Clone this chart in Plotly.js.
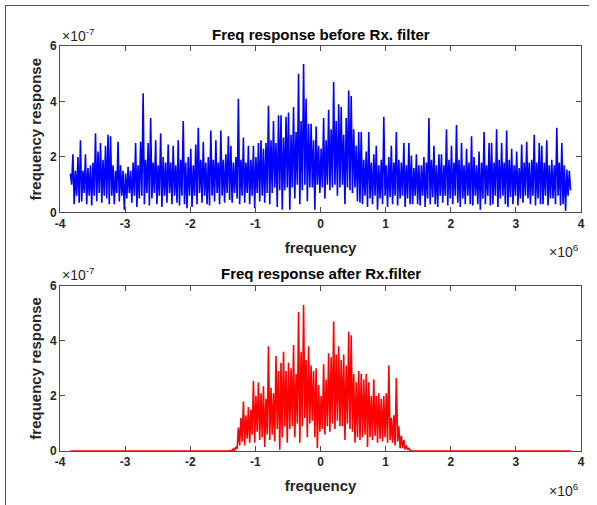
<!DOCTYPE html>
<html><head><meta charset="utf-8">
<script src="https://cdn.plot.ly/plotly-3.0.1.min.js"></script>
<style>
body{margin:0;background:#fff}
#chart{position:absolute;left:0;top:0;width:597px;height:505px}
#frame{position:absolute;left:5px;top:5px;width:583px;height:500px;border-left:1px solid #555;border-top:1px solid #555;pointer-events:none}
</style>
</head><body><div id="chart"></div><div id="frame"></div>
<script>
// frequency span of the FFT bins (Hz)
const fStart = -3.84e6, fEnd = 3.84e6;
const yScale = 1e-7;

// Before Rx filter: alternating local maxima / minima (x1e-7), read left to right
const beforeHi = [1.4,2.1,1.5,2.0, 2.6,1.5,2.1,1.6, 1.7,1.8,2.85,2.2, 2.5,1.9,2.4,2.8, 2.75,1.7,1.5,2.55, 1.7,1.5,1.4,1.65, 1.5,1.8,2.5,1.7, 2.55,4.3,1.9,2.5, 3.4,1.8,2.6,1.7, 2.85,2.0,1.8,2.45, 1.8,2.4,1.7,2.6, 1.9,3.3,1.8,2.0, 2.3,1.7,2.45,3.05, 1.9,2.55,1.8,2.0, 2.95,1.9,2.6,1.8, 2.95,1.9,2.1,2.75, 2.4,1.8,2.0,4.1, 1.9,2.7,1.8,2.4, 1.9,2.4,2.0,2.5, 2.6,2.3,2.5,3.85, 2.6,3.3,2.5,3.5, 3.5,2.7,3.45,3.6, 2.8,3.8,2.9,5.0, 3.3,5.35,4.1,3.2, 3.2,2.6,3.1,2.4, 2.3,3.4,2.6,3.7, 3.0,4.7,3.3,3.9, 3.8,2.8,3.4,4.4, 4.2,3.0,2.4,2.9, 2.9,1.9,2.2,2.9, 1.8,2.1,2.4,1.7, 1.9,3.45,1.7,2.0, 2.4,1.8,2.9,1.9, 1.8,2.5,1.7,2.5, 2.05,1.6,2.1,1.7, 1.7,2.0,1.8,3.4, 1.9,2.4,1.7,2.1, 2.1,1.7,3.0,1.9, 2.4,1.8,3.15,1.9, 2.5,1.7,2.3,1.8, 2.75,2.0,1.7,2.2, 1.8,2.9,1.7,2.5, 2.5,1.8,3.0,1.9, 2.5,1.8,2.95,1.9, 2.3,1.7,2.2,1.6, 2.45,1.8,2.55,1.8, 1.9,2.8,1.8,2.5, 2.4,1.8,2.6,1.7, 1.9,1.7,3.05,1.8, 2.5,1.7,1.55,1.5];
const beforeLo = [1.0,0.3,0.6,0.35, 0.4,0.7,0.3,0.6, 0.25,0.6,0.4,0.7, 0.35,0.6,0.5,0.3, 0.6,0.3,0.7,0.4, 0.6,0.1,0.5,0.7, 0.35,0.6,0.2,0.5, 0.6,0.3,0.7,0.25, 0.5,0.7,0.3,0.6, 0.2,0.6,0.35,0.7, 0.3,0.6,0.35,0.25, 0.6,0.3,0.15,0.6, 0.2,0.6,0.3,0.7, 0.35,0.6,0.3,0.25, 0.6,0.4,0.7,0.3, 0.6,0.35,0.7,0.45, 0.35,0.7,0.5,0.3, 0.6,0.35,0.7,0.3, 0.6,0.15,0.7,0.4, 0.6,0.35,0.7,0.3, 0.7,0.9,0.2,0.8, 0.1,0.8,0.9,0.1, 0.9,0.5,1.0,0.3, 0.8,1.0,0.4,0.9, 0.9,0.1,1.0,0.7, 0.9,0.5,1.0,0.8, 0.9,1.0,0.6,0.9, 1.0,0.3,0.9,0.8, 0.7,0.9,0.4,0.35, 0.3,0.6,0.2,0.5, 0.3,0.6,0.1,0.5, 0.3,0.6,0.2,0.55, 0.3,0.6,0.25,0.5, 0.6,0.2,0.5,0.3, 0.3,0.6,0.3,0.25, 0.6,0.2,0.5,0.3, 0.55,0.3,0.2,0.6, 0.35,0.6,0.25,0.5, 0.3,0.6,0.35,0.2, 0.5,0.3,0.6,0.3, 0.25,0.6,0.3,0.1, 0.5,0.3,0.6,0.25, 0.3,0.6,0.2,0.5, 0.6,0.3,0.2,0.55, 0.3,0.6,0.25,0.5, 0.35,0.6,0.5,0.3, 0.6,0.25,0.5,0.3, 0.3,0.6,0.25,0.5, 0.5,0.3,0.6,0.25, 0.3,0.05,0.6,0.8];

// After Rx filter (x1e-7)
const afterHi = [0,0,0,0,0,0,0,0, 0,0,0,0,0,0,0,0, 0,0,0,0,0,0,0,0, 0,0,0,0,0,0,0,0, 0,0,0,0,0,0,0,0, 0,0,0,0,0,0,0,0, 0,0,0,0,0,0,0,0, 0,0,0,0,0,0,0,0,
  0.02,0.08,0.15,0.85, 1.2,1.8,1.3,1.6, 1.5,2.55,2.0,2.5, 2.1,2.35,1.9,3.8, 2.3,2.1,3.45,2.9, 3.2,3.6,2.9,3.2, 3.0,3.85,2.8,5.05, 3.6,5.3,3.3,3.8, 3.1,2.9,3.0,2.4, 2.0,3.15,2.6,3.55, 3.4,4.7,3.5,3.8, 3.3,3.5,3.1,4.33, 4.2,2.8,2.5,2.9, 2.8,2.6,2.8,2.5, 2.0,2.6,2.0,2.1, 1.9,2.0,2.1,3.1, 1.2,1.3,2.65,0.9, 0.55,0.4,0.2,0.1,
  0,0,0,0,0,0,0,0, 0,0,0,0,0,0,0,0, 0,0,0,0,0,0,0,0, 0,0,0,0,0,0,0,0, 0,0,0,0,0,0,0,0, 0,0,0,0,0,0,0,0, 0,0,0,0,0,0,0,0, 0,0,0,0,0,0,0,0];
const afterLo = [0,0,0,0,0,0,0,0, 0,0,0,0,0,0,0,0, 0,0,0,0,0,0,0,0, 0,0,0,0,0,0,0,0, 0,0,0,0,0,0,0,0, 0,0,0,0,0,0,0,0, 0,0,0,0,0,0,0,0, 0,0,0,0,0,0,0,0,
  0,0.03,0.08,0.2, 0.35,0.2,0.45,0.3, 0.6,0.3,0.7,0.4, 0.5,0.15,0.6,0.4, 0.6,0.35,0.8,0.05, 0.5,0.9,0.3,0.8, 0.9,0.5,1.0,0.3, 0.9,1.2,0.5,1.0, 1.1,0.5,0.1,0.7, 0.8,0.6,0.9,0.7, 1.0,0.8,1.1,0.9, 0.9,0.4,1.0,0.8, 0.7,0.3,0.5,0.4, 0.5,0.6,0.15,0.5, 0.4,0.55,0.3,0.45, 0.35,0.5,0.3,0.4, 0.3,0.2,0.35,0.1, 0.1,0.05,0.05,0.02,
  0,0,0,0,0,0,0,0, 0,0,0,0,0,0,0,0, 0,0,0,0,0,0,0,0, 0,0,0,0,0,0,0,0, 0,0,0,0,0,0,0,0, 0,0,0,0,0,0,0,0, 0,0,0,0,0,0,0,0, 0,0,0,0,0,0,0,0];

const xTickVals = [-4e6,-3e6,-2e6,-1e6,0,1e6,2e6,3e6,4e6];
const xTickText = ['-4','-3','-2','-1','0','1','2','3','4'];
const yTickVals = [0,2e-7,4e-7,6e-7];
const yTickText = ['0','2','4','6'];

const titleTop = 'Freq response before Rx. filter';
const titleBottom = 'Freq response after Rx.filter';

const nPairs = beforeHi.length, nPts = 2*nPairs;
const step = (fEnd - fStart)/(nPts - 1);
function zig(hi, lo){
  const m = Math.min(hi.length, lo.length);
  const x = [], y = [];
  for (let k=0;k<m;k++){
    x.push(fStart + (2*k)*step); y.push(hi[k]*yScale);
    x.push(fStart + (2*k+1)*step); y.push(lo[k]*yScale);
  }
  return {x, y};
}
const b = zig(beforeHi, beforeLo), a = zig(afterHi, afterLo);

const FAM = '"Liberation Sans", Arial, Helvetica, sans-serif';
const axCol = '#4d4d4d', txtCol = '#262626';
function ax(extra){
  return Object.assign({
    showline:true, mirror:'ticks', linecolor:axCol, linewidth:1,
    ticks:'inside', ticklen:5, tickcolor:axCol, tickwidth:1,
    showgrid:false, zeroline:false, fixedrange:true,
    tickfont:{family:FAM, size:12, color:txtCol, weight:700}
  }, extra);
}
const labFont = {family:FAM, size:15, color:txtCol, weight:700};

const data = [
  {x:b.x, y:b.y, type:'scatter', mode:'lines', line:{color:'#0000ff', width:1.6, simplify:false}, xaxis:'x', yaxis:'y', hoverinfo:'skip'},
  {x:a.x, y:a.y, type:'scatter', mode:'lines', line:{color:'#ff0000', width:1.6, simplify:false}, xaxis:'x2', yaxis:'y2', hoverinfo:'skip'}
];

const layout = {
  width:597, height:505, showlegend:false,
  paper_bgcolor:'#fff', plot_bgcolor:'#fff',
  margin:{l:60, r:16, t:46, b:54},
  xaxis: ax({domain:[0,1], range:[-4e6,4e6], anchor:'y', tickvals:xTickVals, ticktext:xTickText,
    title:{text:'frequency', font:labFont, standoff:12}}),
  yaxis: ax({domain:[0.589,1], range:[0,6e-7], anchor:'x', tickvals:yTickVals, ticktext:yTickText,
    title:{text:'frequency response', font:labFont, standoff:4}}),
  xaxis2: ax({domain:[0,1], range:[-4e6,4e6], anchor:'y2', tickvals:xTickVals, ticktext:xTickText,
    title:{text:'frequency', font:labFont, standoff:12}}),
  yaxis2: ax({domain:[0,0.408], range:[0,6e-7], anchor:'x2', tickvals:yTickVals, ticktext:yTickText,
    title:{text:'frequency response', font:labFont, standoff:4}}),
  annotations:[
    {text:titleTop, xref:'paper', yref:'paper', x:0.5, y:1.003, xanchor:'center', yanchor:'bottom', showarrow:false, font:{family:FAM, size:15, color:'#000', weight:700}},
    {text:titleBottom, xref:'paper', yref:'paper', x:0.5, y:0.413, xanchor:'center', yanchor:'bottom', showarrow:false, font:{family:FAM, size:15, color:'#000', weight:700}},
    {text:'×10<sup>-7</sup>', xref:'paper', yref:'paper', x:0.0, y:1.0, xanchor:'left', yanchor:'bottom', showarrow:false, font:{family:FAM, size:14, color:txtCol}},
    {text:'×10<sup>-7</sup>', xref:'paper', yref:'paper', x:0.0, y:0.41, xanchor:'left', yanchor:'bottom', showarrow:false, font:{family:FAM, size:14, color:txtCol}},
    {text:'×10<sup>6</sup>', xref:'paper', yref:'paper', x:1.0, y:0.522, xanchor:'right', yanchor:'top', showarrow:false, font:{family:FAM, size:14, color:txtCol}},
    {text:'×10<sup>6</sup>', xref:'paper', yref:'paper', x:1.0, y:-0.068, xanchor:'right', yanchor:'top', showarrow:false, font:{family:FAM, size:14, color:txtCol}}
  ]
};
Plotly.newPlot('chart', data, layout, {displayModeBar:false, staticPlot:true});
</script>
</body></html>
